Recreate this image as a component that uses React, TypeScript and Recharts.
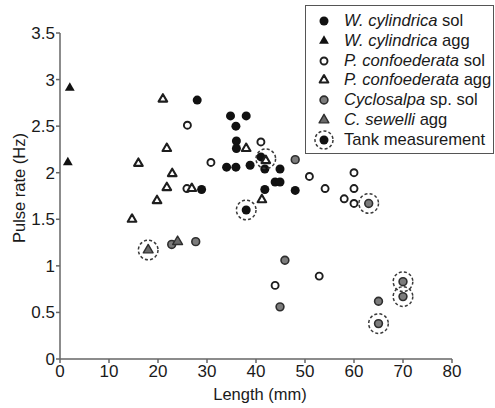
import { ScatterChart, Scatter, XAxis, YAxis } from "recharts";

// length (mm), pulse rate (Hz)
const wCylSol: [number, number][] = [
  [28, 2.78], [34.8, 2.61], [38, 2.61], [35.9, 2.5], [36, 2.34], [36, 2.26],
  [34, 2.06], [35.9, 2.06], [38.8, 2.08], [41, 2.17], [41.8, 2.04], [44.9, 2.04],
  [43.9, 1.9], [44.9, 1.9], [41.8, 1.82], [48, 1.81], [28.9, 1.82], [38, 1.6],
];
const wCylAgg: [number, number][] = [[2, 2.91], [1.6, 2.11]];
const pConSol: [number, number][] = [
  [26, 2.51], [30.8, 2.11], [25.9, 1.83], [41, 2.33], [50.9, 1.96], [54.1, 1.83],
  [60, 2.0], [60, 1.83], [58, 1.72], [60, 1.67], [43.9, 0.79], [52.9, 0.89],
];
const pConAgg: [number, number][] = [
  [21, 2.79], [21.8, 2.26], [16, 2.1], [22.9, 1.99], [21.8, 1.84], [19.8, 1.7],
  [14.7, 1.5], [26.9, 1.83], [38, 2.26], [42, 2.13], [41.2, 1.71],
];
const cycSol: [number, number][] = [
  [48, 2.14], [63, 1.67], [22.8, 1.23], [27.7, 1.26], [45.9, 1.06], [44.9, 0.56],
  [65, 0.62], [70, 0.83], [70, 0.67], [65, 0.38],
];
const cSewAgg: [number, number][] = [[18, 1.17], [24, 1.26]];
const tank: [number, number][] = [
  [38, 1.6], [42, 2.15], [63, 1.67], [70, 0.83], [70, 0.67], [65, 0.38], [18, 1.17],
];

const xTicks = [0, 10, 20, 30, 40, 50, 60, 70, 80];
const yTicks = [0, 0.5, 1, 1.5, 2, 2.5, 3, 3.5];

const legendItems = [
  { genus: "W. cylindrica", rest: " sol", kind: "blackDot" },
  { genus: "W. cylindrica", rest: " agg", kind: "blackTri" },
  { genus: "P. confoederata", rest: " sol", kind: "openDot" },
  { genus: "P. confoederata", rest: " agg", kind: "openTri" },
  { genus: "Cyclosalpa", rest: " sp. sol", kind: "grayDot" },
  { genus: "C. sewelli", rest: " agg", kind: "grayTri" },
  { genus: "", rest: "Tank measurement", kind: "tank" },
];

const FONT = '"Liberation Sans", Arial, Helvetica, sans-serif';
const TEXT = "#1a1a1a";
const AXIS = "#666";

const pts = (a: [number, number][]) => a.map(([x, y]) => ({ x, y }));

function markerSvg(kind: string, cx: number, cy: number) {
  switch (kind) {
    case "blackDot":
      return <circle cx={cx} cy={cy} r={4.5} fill="#111" />;
    case "openDot":
      return <circle cx={cx} cy={cy} r={3.5} fill="#fff" stroke="#1e1e1e" strokeWidth={1.9} />;
    case "grayDot":
      return <circle cx={cx} cy={cy} r={3.9} fill="#7c7c7c" stroke="#2e2e2e" strokeWidth={1.6} />;
    case "tank":
      return (
        <g>
          <circle cx={cx} cy={cy} r={9} fill="none" stroke="#3a3a3a" strokeWidth={1.5} strokeDasharray="3 2.2" />
          <circle cx={cx} cy={cy} r={4.5} fill="#111" />
        </g>
      );
    default: {
      const s = kind === "openTri" ? 8.6 : 9.8;
      const h = s * 0.866;
      const p = `${cx},${cy - (h * 2) / 3} ${cx - s / 2},${cy + h / 3} ${cx + s / 2},${cy + h / 3}`;
      if (kind === "blackTri") return <polygon points={p} fill="#111" />;
      if (kind === "grayTri") return <polygon points={p} fill="#6a6a6a" stroke="#2e2e2e" strokeWidth={1.4} strokeLinejoin="round" />;
      return <polygon points={p} fill="#fff" stroke="#1e1e1e" strokeWidth={2.1} strokeLinejoin="round" />;
    }
  }
}

const shape = (kind: string) => (p: any) => markerSvg(kind, p.cx, p.cy);

const TankShape = (p: any) => (
  <circle cx={p.cx} cy={p.cy} r={9.8} fill="none" stroke="#3a3a3a" strokeWidth={1.5} strokeDasharray="3 2.2" />
);

const LegendBox = () => (
  <div
    style={{
      position: "absolute",
      left: 305,
      top: 5,
      width: 189,
      height: 149,
      border: "1.2px solid #555",
      background: "#fff",
      fontFamily: FONT,
      fontSize: 16.6,
      color: TEXT,
      paddingTop: 5,
      boxSizing: "border-box",
    }}
  >
    {legendItems.map((it, i) => (
      <div key={i} style={{ display: "flex", alignItems: "center", height: 19.8, whiteSpace: "nowrap" }}>
        <svg width={38} height={20} style={{ flex: "none" }}>
          {markerSvg(it.kind, 18, 10)}
        </svg>
        <span>
          {it.genus && <i>{it.genus}</i>}
          {it.rest}
        </span>
      </div>
    ))}
  </div>
);

const YLabel = (p: any) => {
  const vb = p.viewBox;
  const cx = vb.x - 1;
  const cy = vb.y + vb.height / 2 - 8;
  return (
    <text
      x={cx}
      y={cy}
      transform={`rotate(-90 ${cx} ${cy})`}
      textAnchor="middle"
      dominantBaseline="central"
      fill={TEXT}
      fontSize={16.5}
      fontFamily={FONT}
    >
      Pulse rate (Hz)
    </text>
  );
};

const XLabel = (p: any) => {
  const vb = p.viewBox;
  return (
    <text x={vb.x + vb.width / 2 + 4} y={400} textAnchor="middle" fill={TEXT} fontSize={16.5} fontFamily={FONT}>
      Length (mm)
    </text>
  );
};

export default function App() {
  const tick = { fill: TEXT, fontSize: 17, fontFamily: FONT };
  return (
    <div style={{ width: 495, height: 408, background: "#fff", position: "relative" }}>
      <style>{`body{margin:0;background:#fff}`}</style>
      <ScatterChart width={495} height={408} margin={{ top: 33, right: 43, bottom: 4, left: 20 }}>
        <XAxis
          type="number"
          dataKey="x"
          domain={[0, 80]}
          ticks={xTicks}
          interval={0}
          height={45}
          tickSize={4}
          stroke={AXIS}
          strokeWidth={1.5}
          tick={tick}
          label={XLabel}
        />
        <YAxis
          type="number"
          dataKey="y"
          domain={[0, 3.5]}
          ticks={yTicks}
          interval={0}
          width={40}
          tickSize={4}
          tickMargin={1}
          stroke={AXIS}
          strokeWidth={1.5}
          tick={tick}
          label={YLabel}
        />
        <Scatter name="W. cylindrica sol" data={pts(wCylSol)} shape={shape("blackDot")} isAnimationActive={false} />
        <Scatter name="W. cylindrica agg" data={pts(wCylAgg)} shape={shape("blackTri")} isAnimationActive={false} />
        <Scatter name="P. confoederata sol" data={pts(pConSol)} shape={shape("openDot")} isAnimationActive={false} />
        <Scatter name="P. confoederata agg" data={pts(pConAgg)} shape={shape("openTri")} isAnimationActive={false} />
        <Scatter name="Cyclosalpa sp. sol" data={pts(cycSol)} shape={shape("grayDot")} isAnimationActive={false} />
        <Scatter name="C. sewelli agg" data={pts(cSewAgg)} shape={shape("grayTri")} isAnimationActive={false} />
        <Scatter name="Tank measurement" data={pts(tank)} shape={TankShape} isAnimationActive={false} />
      </ScatterChart>
      <LegendBox />
    </div>
  );
}
